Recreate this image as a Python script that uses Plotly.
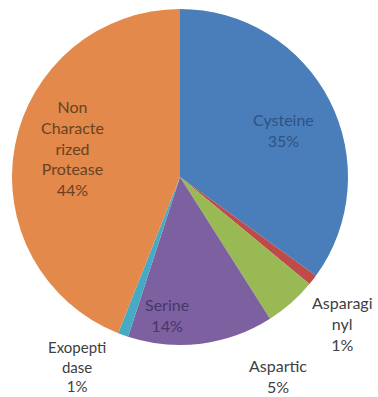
import plotly.graph_objects as go

# Protease classes, clockwise from 12 o'clock
categories = ["Cysteine", "Asparaginyl", "Aspartic", "Serine", "Exopeptidase",
              "Non Characterized Protease"]
display_names = ["Cysteine", "Asparagi<br>nyl", "Aspartic", "Serine",
                 "Exopepti<br>dase", "Non<br>Characte<br>rized<br>Protease"]
values = [35, 1, 5, 14, 1, 44]

slice_colors = ["#4A7EBB", "#BE4B48", "#98B954", "#7D60A0", "#46AAC5", "#E2894B"]
label_colors = ["#2E5282", "#404040", "#404040", "#45386A", "#404040", "#6A4220"]

# label centres (pixels from top-left) and font sizes
label_px = [(283, 130), (342, 323), (278, 376), (167, 315), (77, 366), (72, 148)]
label_size = [16, 16, 16, 16, 15, 16]

W, H = 378, 397
cx, cy, r = 180, 177, 168

fig = go.Figure(go.Pie(
    labels=categories,
    values=values,
    sort=False,
    direction="clockwise",
    rotation=0,
    marker=dict(colors=slice_colors, line=dict(width=0)),
    textinfo="none",
    hoverinfo="label+percent",
    domain=dict(x=[(cx - r) / W, (cx + r) / W],
                y=[1 - (cy + r) / H, 1 - (cy - r) / H]),
    showlegend=False,
))

total = sum(values)
for name, v, col, (px, py), sz in zip(display_names, values, label_colors,
                                       label_px, label_size):
    fig.add_annotation(
        x=px / W, y=1 - py / H, xref="paper", yref="paper",
        xanchor="center", yanchor="middle",
        text=f"{name}<br>{round(100 * v / total)}%",
        showarrow=False,
        font=dict(family="Lato", size=sz, color=col),
    )

fig.update_layout(
    width=W, height=H,
    margin=dict(l=0, r=0, t=0, b=0),
    paper_bgcolor="white",
    plot_bgcolor="white",
)

fig.write_html("out.html")
